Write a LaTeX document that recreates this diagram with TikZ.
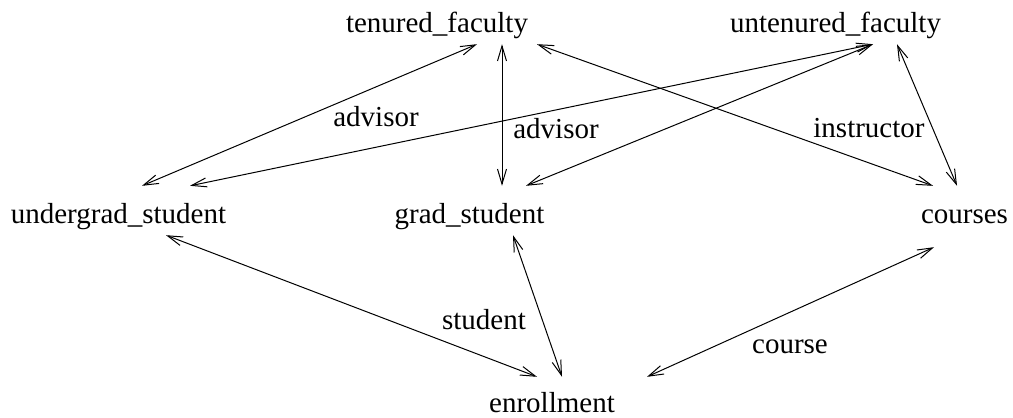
\documentclass[tikz,border=0pt]{standalone}
\usepackage{fontspec}
\setmainfont{Liberation Serif}
\usetikzlibrary{arrows.meta}

\tikzset{
  entity/.style={font=\fontsize{29}{34}\selectfont, text height=27pt, text depth=2pt, inner xsep=0pt, inner ysep=10pt},
  role/.style={font=\fontsize{29}{34}\selectfont, anchor=base, inner sep=0pt},
  link/.style={{Straight Barb[length=15pt,width=9pt]}-{Straight Barb[length=15pt,width=9pt]}, line width=1pt},
}

\begin{document}
\begin{tikzpicture}[x=1pt, y=-1pt]
    \useasboundingbox (0,0) rectangle (1013,418);

    % faculty nodes
    \node[entity] (tenured)   at (437,19.5)   {tenured\_faculty};
    \node[entity] (untenured) at (835.5,19.5) {untenured\_faculty};

    % student and course nodes
    \node[entity] (undergrad) at (118.5,210.5) {undergrad\_student};
    \node[entity] (grad)      at (469.5,210.5) {grad\_student};
    \node[entity] (courses)   at (964.5,210.5) {courses};

    \node[entity] (enroll) at (552,399.5) {enrollment};

    % role labels
    \node[role] (adv_ug) at (376,126) {advisor};
    \node[role] (adv_g)  at (556,138) {advisor};
    \node[role] (instr)  at (869,137) {instructor};
    \node[role] (stud)   at (484,329) {student};
    \node[role] (crs)    at (790,353) {course};

    % the connections
    \draw[link] ([xshift=40pt]tenured.south)   -- ([xshift=23.5pt]undergrad.north);
    \draw[link] ([xshift=37.5pt]untenured.south) -- ([xshift=71.5pt]undergrad.north);
    \draw[link] ([xshift=65pt]tenured.south)   -- ([xshift=32.5pt]grad.north);
    \draw[link] ([xshift=37.5pt]untenured.south) -- ([xshift=56.5pt]grad.north);
    \draw[link] ([xshift=100pt]tenured.south)  -- ([xshift=-31.5pt]courses.north);
    \draw[link] ([xshift=61.5pt]untenured.south) -- ([xshift=-7.5pt]courses.north);

    \draw[link] ([xshift=47.5pt]undergrad.south) -- ([xshift=-15pt,yshift=-2pt]enroll.north);
    \draw[link] ([xshift=43.5pt]grad.south)      -- ([xshift=10pt,yshift=-2pt]enroll.north);
    \draw[link] ([xshift=-30.5pt,yshift=-12pt]courses.south) -- ([xshift=95pt,yshift=-2pt]enroll.north);

\end{tikzpicture}
\end{document}
